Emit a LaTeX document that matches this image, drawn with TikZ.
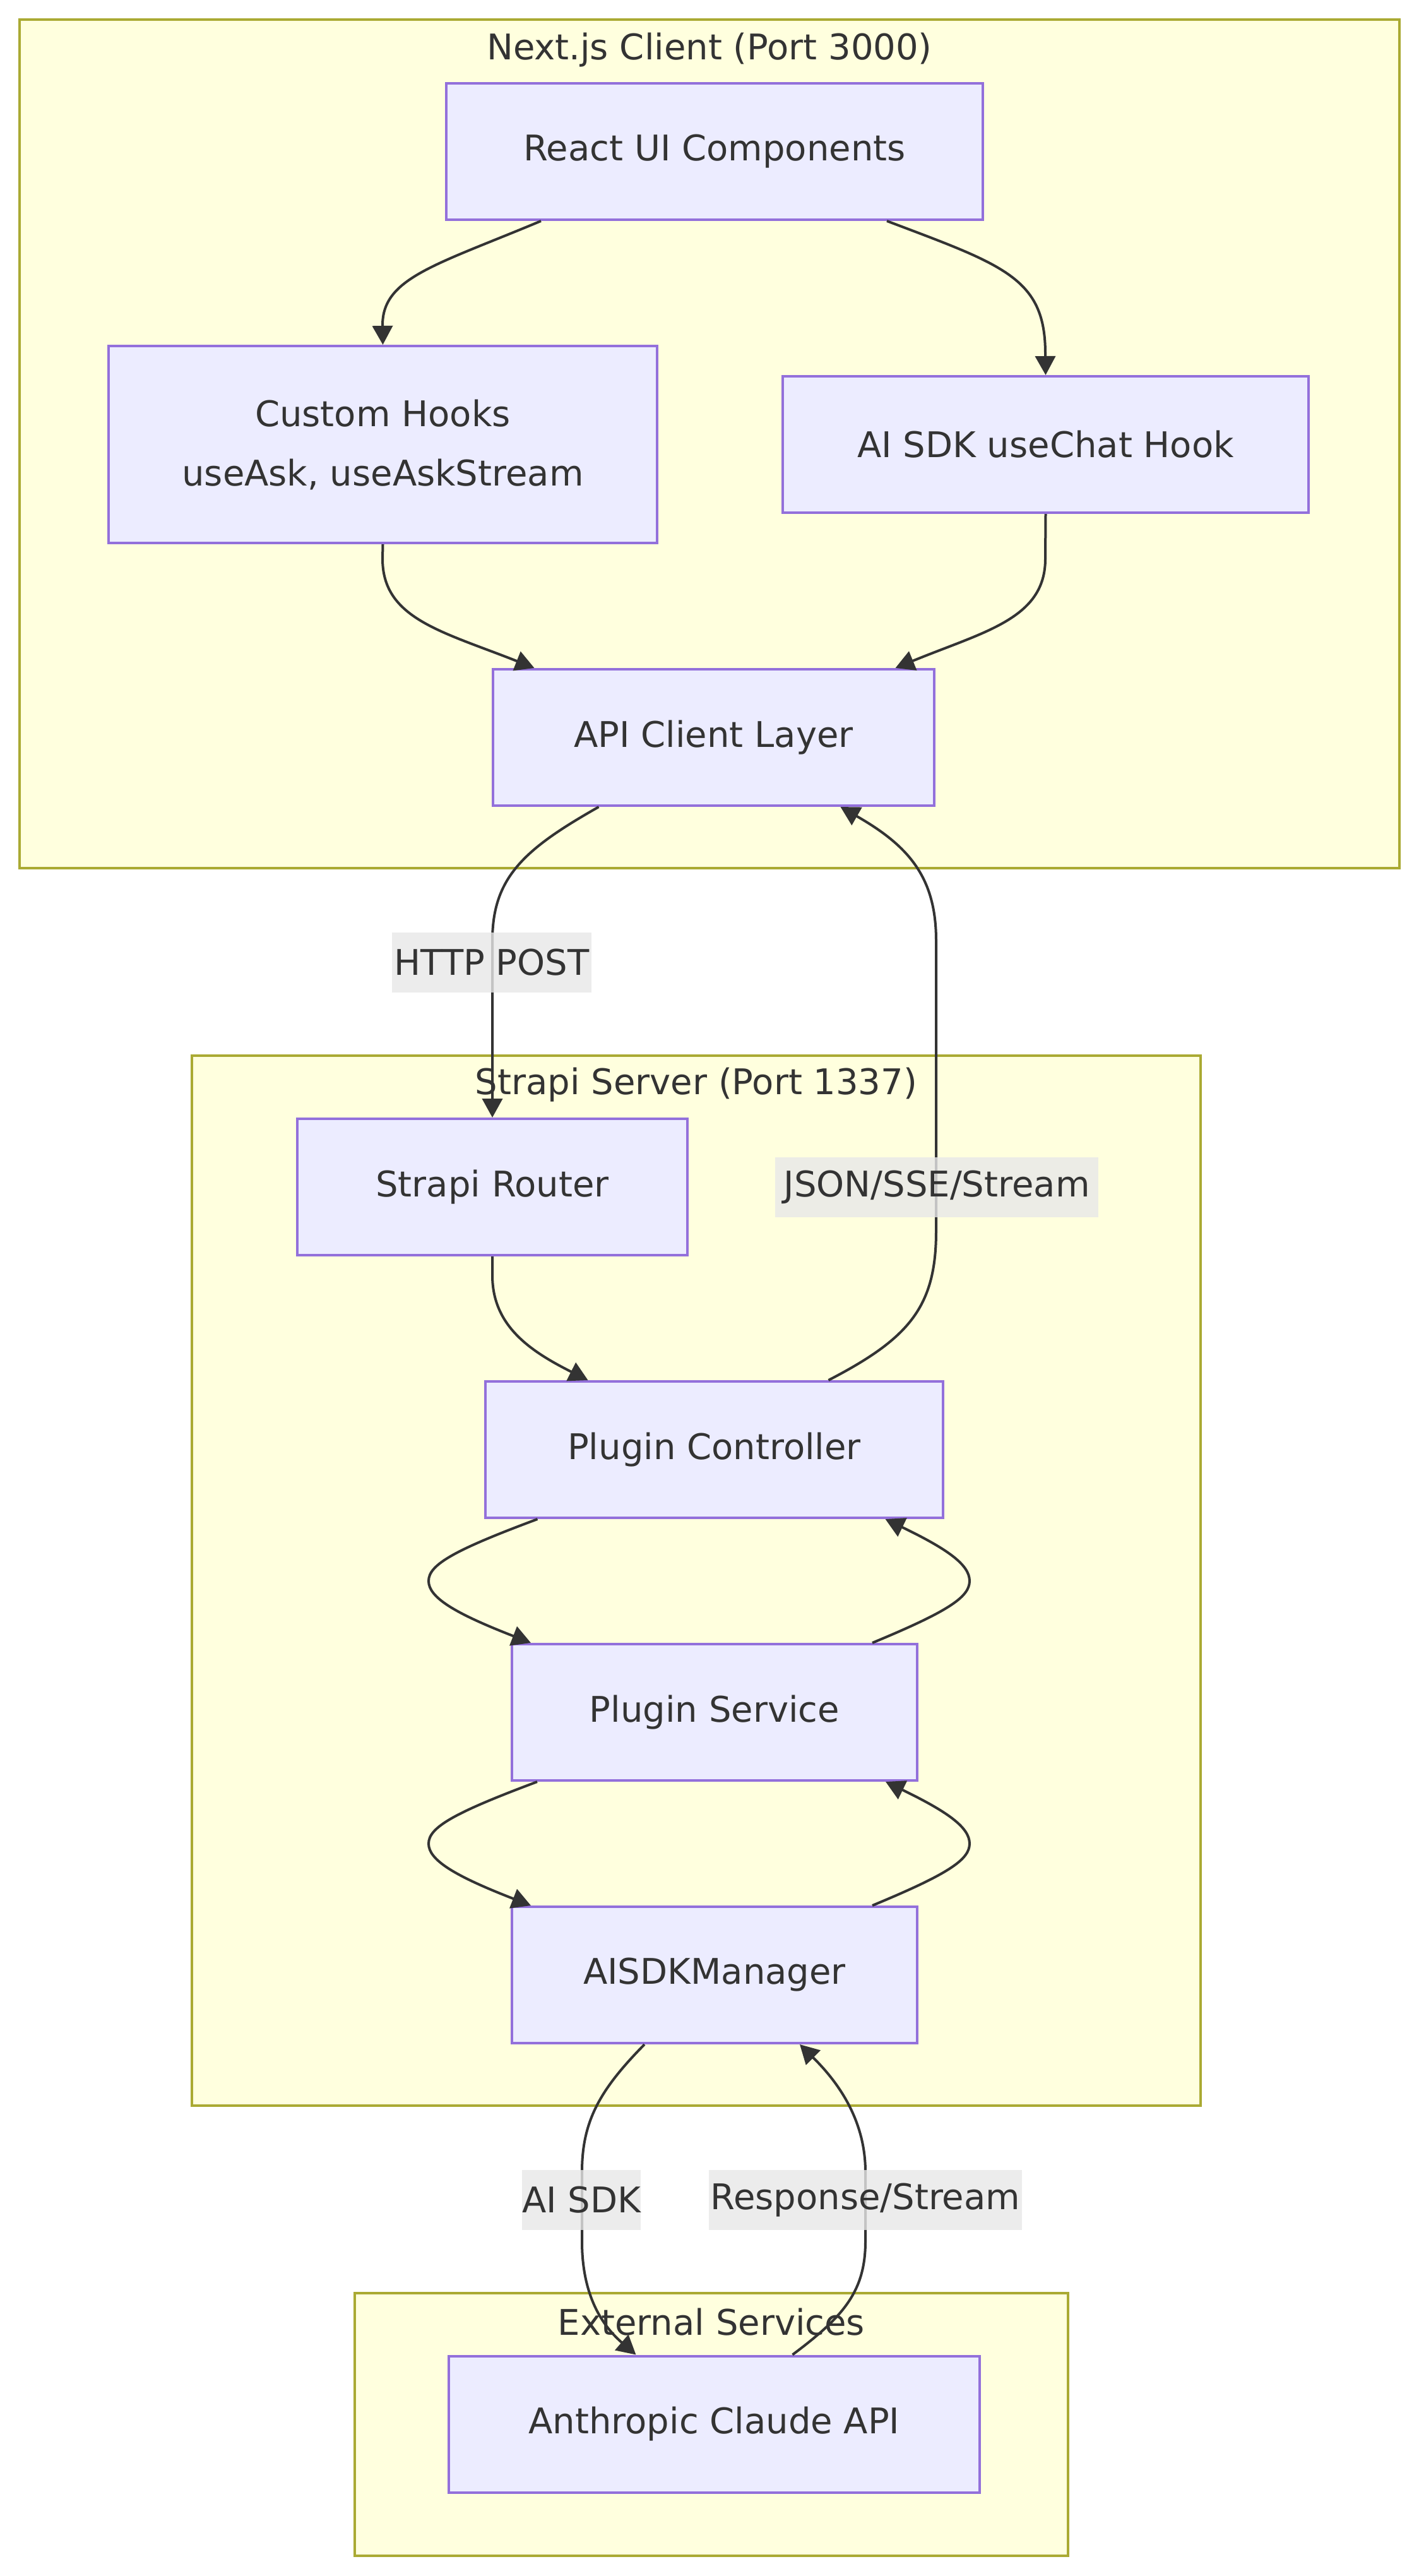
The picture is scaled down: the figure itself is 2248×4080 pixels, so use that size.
\documentclass[tikz,border=0pt]{standalone}
\usepackage{fontspec}
\setmainfont{DejaVu Sans}
\usetikzlibrary{arrows.meta,calc}
\definecolor{clfill}{HTML}{FFFFDE}
\definecolor{cldraw}{HTML}{AAAA33}
\definecolor{ndfill}{HTML}{ECECFF}
\definecolor{nddraw}{HTML}{9370DB}
\definecolor{edgec}{HTML}{333333}
\definecolor{lblbg}{HTML}{E8E8E8}
\begin{document}
\begin{tikzpicture}[x=0.5pt,y=-0.5pt,
 cluster/.style={fill=clfill,draw=cldraw,line width=1.7pt},
 ctitle/.style={text=edgec,font=\fontsize{28}{34}\selectfont,inner sep=0pt},
 box/.style={fill=ndfill,draw=nddraw,line width=2pt,text=edgec,font=\fontsize{28}{47}\selectfont,align=center,inner sep=0pt,minimum height=108pt},
 conn/.style={draw=edgec,line width=2pt,-{Triangle[length=15pt,width=16pt]}},
 elabel/.style={fill=lblbg,fill opacity=0.8,text opacity=1,text=edgec,font=\fontsize{28}{34}\selectfont,inner sep=0pt,minimum height=47.5pt}
]
\useasboundingbox[fill=white] (0,0) rectangle (2248,4080);

% clusters
\draw[cluster] (31,31) rectangle (2217,1375);
\node[ctitle] (tnext) at (1124,79) {Next.js Client (Port 3000)};
\draw[cluster] (304,1672) rectangle (1902,3335);
\node[ctitle] (tstrapi) at (1103,1718) {Strapi Server (Port 1337)};
\draw[cluster] (562,3632) rectangle (1692,4048);
\node[ctitle] (text) at (1127,3678) {External Services};

% nodes
\node[box,minimum width=425pt] (react) at (1132,240) {React UI Components};
\node[box,minimum width=434.5pt,minimum height=156pt] (hooks) at (606.5,704) {Custom Hooks\\useAsk, useAskStream};
\node[box,minimum width=416.5pt] (aisdk) at (1656.5,704) {AI SDK useChat Hook};
\node[box,minimum width=349.5pt] (api) at (1130.5,1168) {API Client Layer};
\node[box,minimum width=309pt] (router) at (780,1880) {Strapi Router};
\node[box,minimum width=362.5pt] (ctrl) at (1131.5,2296) {Plugin Controller};
\node[box,minimum width=321pt] (service) at (1132,2712) {Plugin Service};
\node[box,minimum width=321pt] (mgr) at (1132,3128) {AISDKManager};
\node[box,minimum width=420.5pt] (claude) at (1131.5,3839.5) {Anthropic Claude API};

% edges
\draw[conn] ($(react.south)+(-275,0)$) .. controls (690,420) and (606,440) .. (606,515) -- (hooks.north);
\draw[conn] ($(react.south)+(273,0)$) .. controls (1590,420) and (1656,440) .. (1656,560) -- (aisdk.north);
\draw[conn] (hooks.south) -- (606,885) .. controls (606,980) and (700,1000) .. ($(api.north)+(-284,0)$);
\draw[conn] (aisdk.south) -- (1656,885) .. controls (1656,980) and (1560,1000) .. ($(api.north)+(288,0)$);
\draw[conn] ($(api.south)+(-182,0)$) .. controls (830,1345) and (780,1390) .. (780,1490) -- (router.north);
\draw[conn] ($(ctrl.north)+(181,0)$) .. controls (1440,2120) and (1483,2070) .. (1483,1950) -- (1483,1490) .. controls (1483,1390) and (1440,1340) .. ($(api.south)+(201,0)$);
\draw[conn] (router.south) -- (780,2020) .. controls (780,2100) and (840,2140) .. ($(ctrl.north)+(-200,0)$);
\draw[conn] ($(ctrl.south)+(-280,0)$) .. controls (720,2455) and (679,2478) .. (679,2504) .. controls (679,2530) and (720,2555) .. ($(service.north)+(-291,0)$);
\draw[conn] ($(service.north)+(250,0)$) .. controls (1500,2553) and (1536,2530) .. (1536,2504) .. controls (1536,2478) and (1500,2453) .. ($(ctrl.south)+(271,0)$);
\draw[conn] ($(service.south)+(-281,0)$) .. controls (720,2871) and (679,2894) .. (679,2920) .. controls (679,2946) and (720,2971) .. ($(mgr.north)+(-291,0)$);
\draw[conn] ($(mgr.north)+(250,0)$) .. controls (1500,2969) and (1536,2946) .. (1536,2920) .. controls (1536,2894) and (1500,2869) .. ($(service.south)+(271,0)$);
\draw[conn] ($(mgr.south)+(-111,0)$) .. controls (950,3310) and (922,3360) .. (922,3440) -- (922,3550) .. controls (922,3630) and (950,3680) .. ($(claude.north)+(-124,0)$);
\draw[conn] ($(claude.north)+(124,0)$) .. controls (1335,3670) and (1371,3630) .. (1371,3550) -- (1371,3440) .. controls (1371,3360) and (1330,3300) .. ($(mgr.south)+(135,0)$);

% edge labels
\node[elabel,minimum width=158pt] (lhttp) at (779,1524) {HTTP POST};
\node[elabel,minimum width=256pt] (ljson) at (1484,1880) {JSON/SSE/Stream};
\node[elabel,minimum width=90pt] (lai) at (921,3484) {AI SDK};
\node[elabel,minimum width=248pt] (lresp) at (1371,3484) {Response/Stream};
\end{tikzpicture}
\end{document}
